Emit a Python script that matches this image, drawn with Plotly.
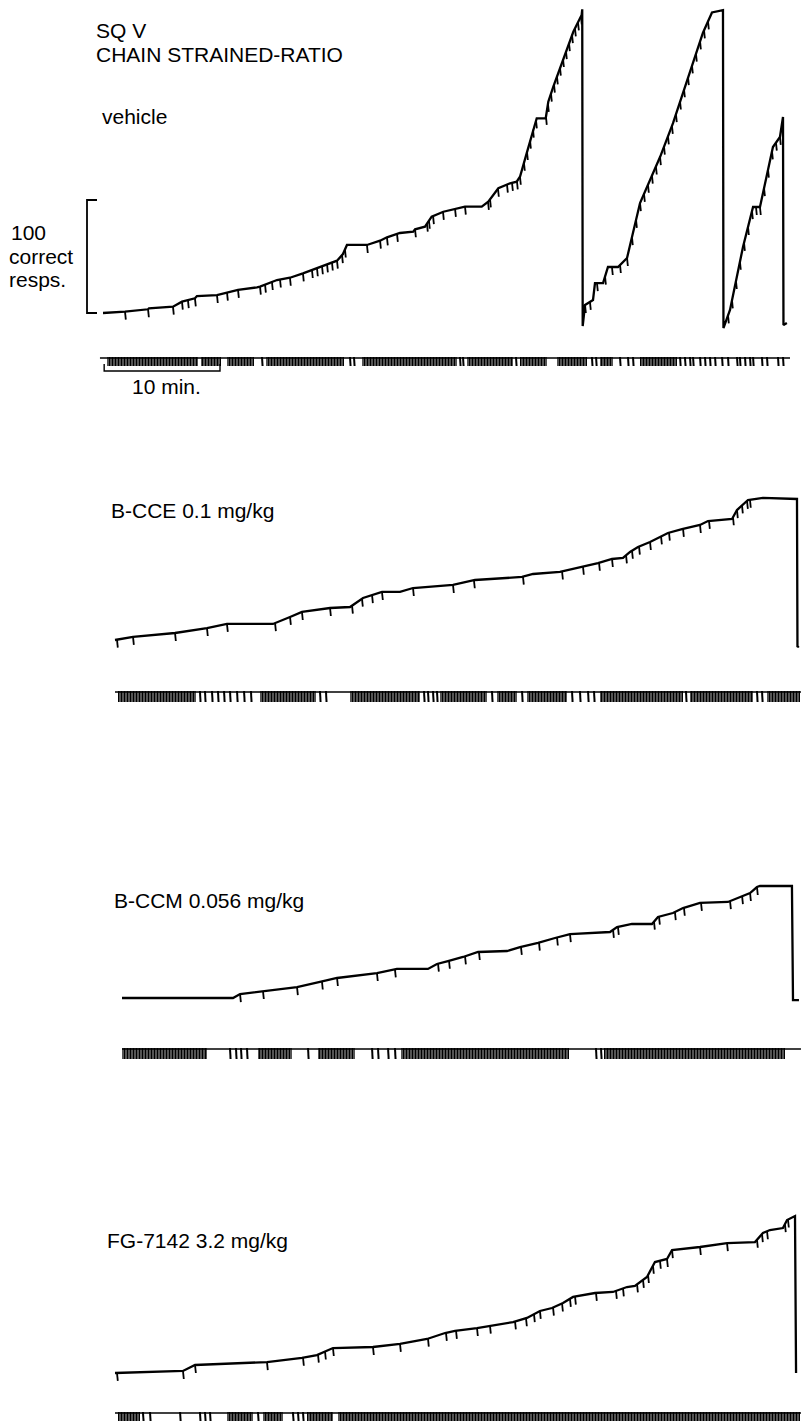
import numpy as np
import plotly.graph_objects as go

# ---------------------------------------------------------------------------
# Cumulative records (time in min, pen height in correct responses)
# ---------------------------------------------------------------------------
VEH_T = [0, 1.88, 3.85, 3.93, 5.98, 6.75, 7.86, 8.03, 9.74, 11.54, 13.16, 13.42,
         14.87, 15.98, 17.09, 17.44, 18.29, 19.15, 20.0, 20.51, 20.85, 22.56, 23.68,
         24.27, 25.38, 26.52, 26.67, 27.52, 28.09, 29.09, 29.94, 30.94, 32.37, 32.93,
         33.79, 34.79, 35.36, 35.64, 36.21, 36.78, 37.07, 37.84, 38.06, 38.49, 39.34,
         40.2, 40.91, 40.96, 41.0, 41.2, 41.88, 42.05, 42.74, 43.16, 44.02, 44.79,
         45.9, 47.61, 48.72, 49.91, 51.28, 52.05, 52.99, 53.03, 53.59, 54.7, 55.56,
         56.15, 57.26, 57.86, 58.12, 58.16, 58.45]
VEH_N = [0, 1.2, 3.3, 4.2, 5.6, 10.0, 13.0, 15.0, 15.9, 20.4, 22.7, 23.3,
         29.2, 31.2, 35.1, 36.5, 39.6, 43.1, 46.3, 52.2, 60.2, 60.2, 64.0,
         67.0, 70.8, 71.9, 74.1, 76.4, 85.2, 89.6, 91.8, 94.1, 94.1, 98.5,
         110.4, 114.8, 116.2, 120.6, 141.3, 163.5, 172.3, 172.3, 187.0, 200.3, 225.4,
         248.9, 263.7, 268.8, -11.5, 7.1, 11.5, 26.5, 26.5, 40.7, 40.7, 48.7,
         97.3, 138.0, 168.0, 206.0, 248.0, 266.0, 268.0, -13.3, 2.7, 58.4, 93.8,
         93.8, 146.9, 155.8, 173.5, -10.6, -8.8]
VEH_PIPS = [1.88, 3.85, 5.98, 6.75, 7.26, 7.86, 9.74, 10.6, 11.54, 13.42, 13.85, 14.44,
            15.13, 15.98, 17.09, 17.86, 18.29, 18.72, 19.15, 19.57, 20.0, 20.43, 20.68,
            22.56, 23.68, 24.27, 25.13, 26.67, 27.69, 27.86, 28.21, 29.06, 30.09, 30.94,
            32.91, 33.08, 33.76, 34.53, 34.96, 35.38, 35.64, 35.98, 36.24, 36.5, 36.75,
            37.01, 37.86, 38.03, 38.29, 38.55, 38.8, 39.06, 39.32, 39.57, 39.83, 40.09,
            40.34, 40.6, 40.85, 41.2, 41.62, 42.22, 42.91, 43.5, 44.19, 44.79, 45.21,
            45.56, 45.9, 46.24, 46.58, 46.92, 47.26, 47.61, 47.95, 48.29, 48.63, 48.97,
            49.32, 49.66, 50.0, 50.34, 50.68, 51.03, 51.37, 51.71, 53.42, 53.76, 54.1,
            54.44, 54.79, 55.13, 55.47, 55.81, 56.15, 56.5, 56.84, 57.18, 57.52, 57.86]

CCE_T = [0, 1.54, 5.13, 7.86, 9.57, 13.5, 14.96, 15.98, 18.38, 20.09, 21.2, 22.82,
         24.36, 25.47, 28.89, 30.77, 34.79, 35.73, 38.03, 39.91, 41.28, 42.48, 43.42,
         44.02, 44.7, 45.73, 46.58, 47.26, 48.46, 50.0, 50.68, 52.74, 53.16, 54.1,
         55.38, 58.29, 58.33, 58.45]
CCE_N = [0, 2.7, 6.2, 10.6, 14.2, 14.2, 20.4, 24.8, 28.3, 29.2, 37.2, 42.5,
         42.5, 46.0, 48.7, 53.1, 55.8, 58.4, 60.2, 64.6, 68.1, 71.7, 72.6,
         77.9, 82.3, 86.7, 91.2, 94.7, 98.2, 101.8, 105.3, 107.1, 115.0, 123.9,
         125.7, 124.8, -6.2, -5.3]
CCE_PIPS = [0.17, 1.54, 5.13, 7.86, 9.57, 13.68, 14.96, 15.98, 18.38, 20.26, 21.11,
            21.97, 22.82, 25.47, 28.89, 30.68, 34.87, 38.21, 40.0, 41.37, 42.48, 43.68,
            44.19, 44.79, 45.73, 46.67, 47.35, 48.55, 50.0, 50.77, 52.82, 53.16, 53.59,
            54.02, 54.27]

CCM_T = [0, 9.49, 10.09, 12.05, 14.36, 14.96, 16.92, 18.38, 21.79, 23.5, 26.15, 26.92,
         27.86, 29.15, 30.43, 32.91, 34.02, 35.56, 37.01, 38.29, 41.71, 42.31, 43.59,
         45.3, 45.81, 47.09, 47.95, 49.4, 51.79, 52.82, 53.68, 54.27, 54.53, 57.26,
         57.35, 57.86]
CCM_N = [0, 0, 3.5, 6.2, 8.8, 9.7, 14.2, 17.7, 22.1, 25.7, 25.7, 30.1,
         32.7, 36.3, 40.7, 41.6, 45.1, 48.7, 53.1, 56.6, 58.4, 62.8, 65.5,
         65.5, 71.7, 75.2, 79.6, 84.1, 85.0, 89.4, 92.9, 98.2, 99.1, 99.1,
         -1.8, -1.8]
CCM_PIPS = [10.09, 12.05, 14.96, 17.09, 18.38, 21.79, 23.33, 27.01, 27.95, 29.32, 30.51,
            34.1, 35.64, 37.18, 38.29, 41.97, 42.39, 45.47, 45.9, 47.26, 48.03, 49.49,
            51.97, 53.0, 53.68, 54.27]

FG_T = [0, 5.81, 6.84, 12.99, 15.98, 17.26, 18.63, 22.05, 24.36, 26.67, 28.21, 29.06,
        30.94, 31.88, 34.02, 35.21, 36.32, 37.35, 38.29, 39.15, 41.03, 42.56, 43.76,
        44.44, 45.47, 46.15, 47.18, 47.61, 50.0, 52.31, 54.7, 55.38, 55.98, 57.09,
        57.44, 58.12, 58.21]
FG_N = [0, 1.8, 7.1, 9.7, 13.3, 15.9, 22.1, 23.0, 25.7, 30.1, 35.4, 37.2,
        39.8, 41.6, 45.1, 48.7, 54.9, 57.5, 61.9, 67.3, 70.8, 71.7, 76.1,
        77.0, 85.0, 98.2, 100.9, 108.8, 111.5, 115.0, 115.9, 123.9, 126.5, 128.3,
        135.4, 138.9, 0]
FG_PIPS = [0.17, 5.81, 6.84, 12.99, 16.07, 17.35, 17.95, 18.63, 22.05, 24.36, 26.75,
           28.29, 29.15, 30.94, 32.05, 34.19, 35.13, 35.81, 36.32, 37.44, 38.21, 38.89,
           39.32, 41.11, 42.82, 43.42, 44.62, 45.13, 45.56, 45.98, 46.58, 47.18, 47.61,
           50.0, 52.31, 54.87, 55.3, 55.73, 57.26, 57.52]

# ---------------------------------------------------------------------------
# Event pen: bursts of responding (start, end in min) and isolated responses
# ---------------------------------------------------------------------------
VEH_EV_SPAN = (-0.26, 58.72)
VEH_EV_BURSTS = [(0.34, 8.12), (8.38, 10.09), (10.6, 12.91), (13.93, 20.6), (22.14, 30.26),
                 (31.11, 35.04), (35.64, 37.95), (38.8, 41.37), (42.48, 43.59), (45.9, 49.06)]
VEH_EV_SINGLE = [13.59, 21.11, 21.45, 30.51, 30.77, 35.3, 41.79, 42.14, 44.19, 44.87, 45.3,
                 49.32, 49.74, 50.17, 50.43, 51.03, 51.45, 51.88, 52.31, 52.91, 53.42, 54.19,
                 54.44, 54.87, 55.3, 55.56, 56.32, 56.75, 57.69, 58.12]

CCE_EV_SPAN = (0.0, 58.63)
CCE_EV_BURSTS = [(0.26, 6.92), (12.39, 17.18), (20.09, 26.07), (27.78, 31.79), (32.65, 34.36),
                 (35.21, 38.63), (41.45, 48.55), (49.15, 54.53), (55.73, 58.55)]
CCE_EV_SINGLE = [7.26, 7.69, 8.29, 8.8, 9.32, 9.83, 10.43, 11.03, 11.62, 17.52, 18.03, 26.41,
                 26.75, 27.18, 27.52, 32.22, 34.79, 39.06, 39.74, 40.43, 40.94, 48.8, 54.87, 55.3]

CCM_EV_SPAN = (0.0, 58.03)
CCM_EV_BURSTS = [(0.0, 7.26), (11.62, 14.53), (16.75, 19.91), (23.85, 38.21), (41.2, 56.67)]
CCM_EV_SINGLE = [9.23, 9.74, 10.17, 10.68, 15.9, 21.37, 21.88, 22.74, 23.33, 40.51, 40.94]

FG_EV_SPAN = (0.0, 58.63)
FG_EV_BURSTS = [(0.26, 2.14), (9.57, 11.79), (12.65, 14.36), (16.41, 18.63), (19.06, 58.55)]
FG_EV_SINGLE = [2.39, 2.99, 5.56, 7.26, 7.69, 8.12, 12.22, 15.21, 15.64, 16.07]

# Calibration bars
SCALE_RESP = 100     # correct responses
SCALE_MIN = 10       # minutes

TITLE_LINES = ["SQ V", "CHAIN STRAINED-RATIO"]
CONDITIONS = ["vehicle", "B-CCE 0.1 mg/kg", "B-CCM 0.056 mg/kg", "FG-7142 3.2 mg/kg"]
Y_LABEL = ["100", "correct", "resps."]
X_LABEL = "10 min."

# ---------------------------------------------------------------------------
# Page geometry (pixels)
# ---------------------------------------------------------------------------
W, H = 801, 1422
PX_PER_MIN = 11.7
PX_PER_RESP = 1.13
PIP_PX = 8.0
FONT = "Liberation Sans, Arial, Helvetica, sans-serif"

panels = [
    dict(t=VEH_T, n=VEH_N, pips=VEH_PIPS, span=VEH_EV_SPAN, bursts=VEH_EV_BURSTS,
         singles=VEH_EV_SINGLE, x0=103, base=313, band=(0, 400), ev_top=357, ev_h=9),
    dict(t=CCE_T, n=CCE_N, pips=CCE_PIPS, span=CCE_EV_SPAN, bursts=CCE_EV_BURSTS,
         singles=CCE_EV_SINGLE, x0=115, base=640, band=(400, 745), ev_top=691, ev_h=11),
    dict(t=CCM_T, n=CCM_N, pips=CCM_PIPS, span=CCM_EV_SPAN, bursts=CCM_EV_BURSTS,
         singles=CCM_EV_SINGLE, x0=122, base=998, band=(745, 1085), ev_top=1048, ev_h=11),
    dict(t=FG_T, n=FG_N, pips=FG_PIPS, span=FG_EV_SPAN, bursts=FG_EV_BURSTS,
         singles=FG_EV_SINGLE, x0=115, base=1373, band=(1085, 1422), ev_top=1412, ev_h=9),
]

fig = go.Figure()
layout_axes = {}

for i, p in enumerate(panels):
    k = "" if i == 0 else str(i + 1)
    xa, ya = "x" + k, "y" + k
    top, bot = p["band"]
    base = p["base"]

    def px_to_resp(py, base=base):
        return (base - py) / PX_PER_RESP

    layout_axes["xaxis" + k] = dict(
        domain=[0, 1], anchor=ya, visible=False, fixedrange=True,
        range=[-p["x0"] / PX_PER_MIN, (W - p["x0"]) / PX_PER_MIN])
    layout_axes["yaxis" + k] = dict(
        domain=[1 - bot / H, 1 - top / H], anchor=xa, visible=False, fixedrange=True,
        range=[px_to_resp(bot), px_to_resp(top)])

    # cumulative record
    fig.add_trace(go.Scatter(x=p["t"], y=p["n"], mode="lines", xaxis=xa, yaxis=ya,
                             line=dict(color="black", width=2.3), hoverinfo="skip",
                             showlegend=False, cliponaxis=False))

    # reinforcement pips hanging from the record
    pip_y = np.interp(p["pips"], p["t"], p["n"])
    px, py = [], []
    drop = PIP_PX / PX_PER_RESP
    for tt, yy in zip(p["pips"], pip_y):
        px += [tt, tt + 0.07, None]
        py += [yy, yy - drop, None]
    fig.add_trace(go.Scatter(x=px, y=py, mode="lines", xaxis=xa, yaxis=ya,
                             line=dict(color="black", width=1.8), hoverinfo="skip",
                             showlegend=False, cliponaxis=False))

    # event pen: baseline, bursts and single responses
    ev_top = px_to_resp(p["ev_top"])
    ev_bot = px_to_resp(p["ev_top"] + p["ev_h"])
    ev_line = px_to_resp(p["ev_top"] + 1)
    fig.add_trace(go.Scatter(x=list(p["span"]), y=[ev_line, ev_line], mode="lines",
                             xaxis=xa, yaxis=ya, line=dict(color="black", width=1.5),
                             hoverinfo="skip", showlegend=False))
    centers = [(a + b) / 2 for a, b in p["bursts"]]
    widths = [b - a for a, b in p["bursts"]]
    fig.add_trace(go.Bar(x=centers, y=[ev_top - ev_bot] * len(centers),
                         base=[ev_bot] * len(centers), width=widths,
                         xaxis=xa, yaxis=ya, hoverinfo="skip", showlegend=False,
                         marker=dict(color="black", line=dict(width=0),
                                     pattern=dict(shape="|", fgcolor="black", bgcolor="white",
                                                  size=3, solidity=0.78, fillmode="replace"))))
    sx, sy = [], []
    for tt in p["singles"]:
        sx += [tt, tt + 0.05, None]
        sy += [ev_top, ev_bot, None]
    fig.add_trace(go.Scatter(x=sx, y=sy, mode="lines", xaxis=xa, yaxis=ya,
                             line=dict(color="black", width=2.0), hoverinfo="skip",
                             showlegend=False))

    # calibration bars on the first record
    if i == 0:
        bx_in = (97 - p["x0"]) / PX_PER_MIN
        bx_out = (87 - p["x0"]) / PX_PER_MIN
        fig.add_trace(go.Scatter(x=[bx_in, bx_out, bx_out, bx_in],
                                 y=[SCALE_RESP, SCALE_RESP, 0, 0], mode="lines",
                                 xaxis=xa, yaxis=ya, line=dict(color="black", width=1.8),
                                 hoverinfo="skip", showlegend=False, cliponaxis=False))
        t_top = px_to_resp(364)
        t_bot = px_to_resp(371)
        fig.add_trace(go.Scatter(x=[0.1, 0.1, SCALE_MIN, SCALE_MIN],
                                 y=[t_top, t_bot, t_bot, t_top], mode="lines",
                                 xaxis=xa, yaxis=ya, line=dict(color="black", width=1.4),
                                 hoverinfo="skip", showlegend=False, cliponaxis=False))

# ---------------------------------------------------------------------------
# Text
# ---------------------------------------------------------------------------
def label(text, x_px, y_px):
    return dict(text=text, x=x_px / W, y=1 - y_px / H, xref="paper", yref="paper",
                xanchor="left", yanchor="middle", showarrow=False,
                font=dict(family=FONT, size=21, color="black"), borderpad=0)

annotations = [
    label(TITLE_LINES[0], 95, 30.5),
    label(TITLE_LINES[1], 95, 54.5),
    label(CONDITIONS[0], 101, 116.5),
    label(Y_LABEL[0], 10, 233),
    label(Y_LABEL[1], 8, 257),
    label(Y_LABEL[2], 8, 280),
    label(X_LABEL, 131, 386.5),
    label(CONDITIONS[1], 110, 511),
    label(CONDITIONS[2], 113, 900),
    label(CONDITIONS[3], 106, 1240),
]

fig.update_layout(
    width=W, height=H, autosize=False,
    margin=dict(l=0, r=0, t=0, b=0, pad=0),
    paper_bgcolor="white", plot_bgcolor="white",
    showlegend=False, barmode="overlay", bargap=0,
    annotations=annotations,
    **layout_axes,
)

fig.write_html("out.html", config=dict(displayModeBar=False))
